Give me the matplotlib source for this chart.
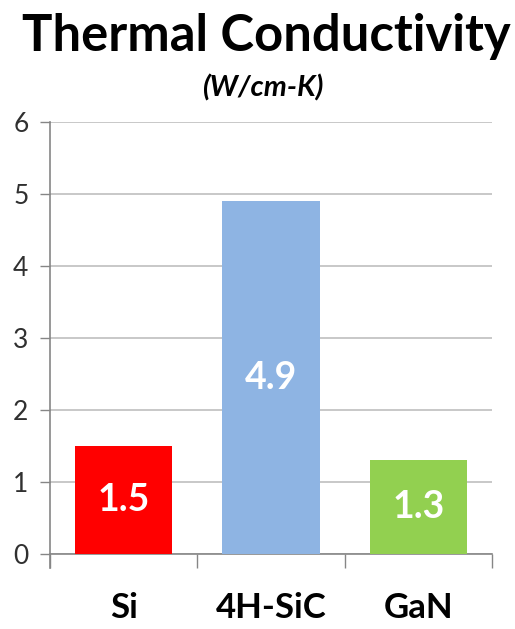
import matplotlib
matplotlib.use('Agg')
from matplotlib import pyplot as plt

materials = ['Si', '4H-SiC', 'GaN']
conductivity = [1.5, 4.9, 1.3]
bar_colors = ['#FF0000', '#8EB4E3', '#92D050']
y_ticks = [0, 1, 2, 3, 4, 5, 6]

plt.rcParams['font.family'] = ['Lato', 'DejaVu Sans']

AXIS_GRAY = '#868686'
GRID_GRAY = '#BFBFBF'


def main():
    fig = plt.figure(figsize=(5.15, 6.29), dpi=100)
    ax = fig.add_axes([50 / 515, 75 / 629, 442 / 515, 432 / 629])

    xs = range(len(materials))
    ax.bar(xs, conductivity, width=0.66, color=bar_colors, zorder=3)
    for x, v in zip(xs, conductivity):
        ax.text(x, v / 2, f'{v:.1f}', ha='center', va='center',
                color='white', fontsize=27, fontweight='bold', zorder=4)

    ax.set_xlim(-0.5, len(materials) - 0.5)
    ax.set_ylim(0, 6)
    ax.set_yticks(y_ticks)
    ax.tick_params(axis='y', length=7.5, width=1, color=AXIS_GRAY,
                   labelsize=19, labelcolor='#303030', pad=8)
    ax.yaxis.grid(True, color=GRID_GRAY, linewidth=1.2, zorder=0)

    # category labels sit between the boundary ticks
    ax.set_xticks([i - 0.5 for i in range(len(materials) + 1)])
    ax.set_xticklabels([])
    ax.set_xticks(list(xs), materials, minor=True)
    ax.tick_params(axis='x', which='major', length=10, width=1, color=AXIS_GRAY)
    ax.tick_params(axis='x', which='minor', length=0, pad=27, labelsize=25)
    for lbl in ax.get_xticklabels(minor=True):
        lbl.set_fontweight('bold')

    for side in ('top', 'right'):
        ax.spines[side].set_visible(False)
    for side in ('left', 'bottom'):
        ax.spines[side].set_color(AXIS_GRAY)
        ax.spines[side].set_linewidth(1.2)
    ax.spines['left'].set_bounds(-0.2, 6)

    fig.text(0.518, 0.942, 'Thermal Conductivity', ha='center', va='center',
             fontsize=36.5, fontweight='bold')
    fig.text(0.51, 0.86, '(W/cm-K)', ha='center', va='center',
             fontsize=21, fontweight='bold', style='italic')

    fig.savefig('out.png', dpi=100)


if __name__ == '__main__':
    main()
